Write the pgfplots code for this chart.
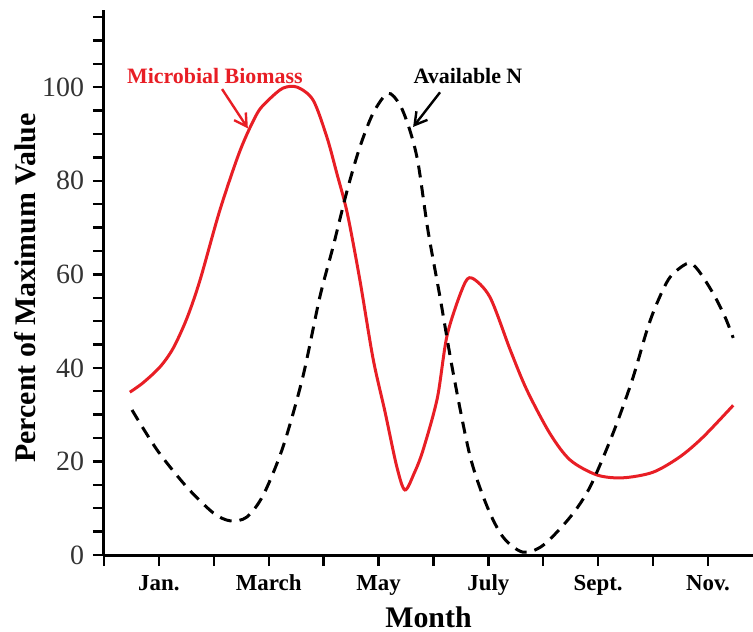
\documentclass[border=0pt]{standalone}
\usepackage{pgfplots}
\pgfplotsset{compat=1.18}
\usepackage{fontspec}
\setmainfont{Liberation Serif}
\usetikzlibrary{calc,arrows.meta}

\definecolor{bioRed}{RGB}{232,30,37}

\begin{document}
\begin{tikzpicture}
\begin{axis}[
    name=ax,
    scale only axis,
    width=324.5bp, height=272.5bp,
    xmin=0, xmax=11.82,
    ymin=0, ymax=116.5,
    axis x line=bottom, axis y line=left,
    axis line style={-, line width=1.5bp},
    tick align=outside,
    major tick length=5.5bp, minor tick length=5.5bp,
    tick style={line width=1.2bp, black},
    xtick={0,...,11},
    xticklabels={,Jan.,,March,,May,,July,,Sept.,,Nov.},
    xticklabel style={font=\fontsize{11.5}{12}\selectfont\bfseries, yshift=-1bp},
    ytick={0,20,...,100},
    minor ytick={5,10,...,115},
    yticklabel style={font=\fontsize{14}{15}\selectfont, text=black!80, xshift=-1bp},
    /pgf/number format/assume math mode=true,
    xlabel={\bfseries Month},
    xlabel style={font=\fontsize{15}{16}\selectfont, at={(axis description cs:0.5,-0.1138)}, anchor=center},
    ylabel={\bfseries Percent of Maximum Value},
    ylabel style={font=\fontsize{15}{16}\selectfont, at={(axis description cs:-0.1217,0.49)}, anchor=center},
    clip=false,
]
% Microbial Biomass
\addplot[bioRed, line width=1.5bp, smooth, tension=0.5] coordinates {
(0.47,34.8) (0.71,36.8) (1.02,40.2) (1.26,44.2) (1.51,50.6) (1.75,58.8) (2.11,73.7)
(2.48,86.5) (2.79,94.4) (3.0,97.3) (3.26,99.8) (3.52,100) (3.81,97.2) (4.06,89.3)
(4.24,81.6) (4.43,73.1) (4.66,58.8) (4.9,42) (5.12,30.5) (5.33,19) (5.48,13.9)
(5.65,17.5) (5.81,22.4) (6.07,33.5) (6.25,47) (6.54,57.3) (6.7,59.2) (7.03,55.1)
(7.4,43.8) (7.7,35.3) (8.12,26) (8.49,20.3) (8.98,17.1) (9.45,16.5) (10.0,17.7)
(10.49,21) (10.91,25.2) (11.46,32)
};
% Available N
\addplot[black, line width=1.5bp, dash pattern=on 6bp off 4bp, smooth, tension=0.5] coordinates {
(0.51,31) (0.97,22.4) (1.51,14.5) (1.99,9) (2.3,7.3) (2.6,8.1) (2.9,12.8) (3.26,23.1)
(3.62,38) (3.93,55.1) (4.17,65.8) (4.43,78) (4.66,87.2) (4.9,94.4) (5.17,98.7)
(5.39,96.2) (5.57,90.8) (5.72,83.8) (5.9,69.4) (6.12,55.1) (6.36,38.9) (6.67,21)
(6.98,10.3) (7.27,3.8) (7.63,0.6) (8.0,2.1) (8.49,8.1) (8.85,14.5) (9.27,26)
(9.62,37.4) (9.89,48.1) (10.07,53.8) (10.31,59.4) (10.64,62.4) (10.82,60.9)
(11.09,56) (11.31,50.9) (11.46,46.4)
};
\node[text=bioRed, font=\fontsize{11}{12}\selectfont\bfseries] at (axis cs:2.02,102.4) {Microbial Biomass};
\draw[bioRed, line width=1.2bp, -{Straight Barb[length=6bp,width=7bp]}] (axis cs:2.15,99.6) -- (axis cs:2.62,91.2);
\node[text=black, font=\fontsize{11}{12}\selectfont\bfseries] at (axis cs:6.63,102.4) {Available N};
\draw[black, line width=1.2bp, -{Straight Barb[length=6bp,width=7bp]}] (axis cs:6.12,98.9) -- (axis cs:5.63,91.5);
\end{axis}
\pgfresetboundingbox
\path ($(ax.south west)+(-52bp,-38.5bp)$) rectangle ($(ax.north east)+(0,5bp)$);
\end{tikzpicture}
\end{document}
